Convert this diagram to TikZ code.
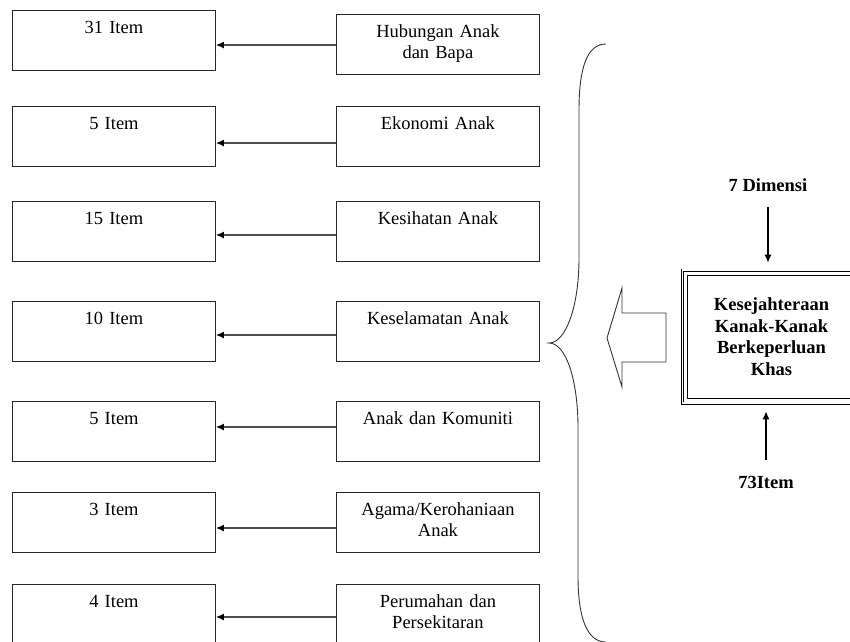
\documentclass[tikz,border=0pt]{standalone}
\usepackage{fontspec}
\setmainfont{Liberation Serif}
\usetikzlibrary{arrows.meta}
\tikzset{
	itembox/.style={draw=black!85, line width=0.9pt, anchor=north west, minimum width=203pt, inner xsep=4pt, inner ysep=0pt, text width=195pt, align=center, text height=23pt, text depth=37pt, font=\fontsize{18.5}{21.5}\selectfont},
	conn/.style={draw=black!70, line width=1.3pt, -{Latex[length=8pt,width=7pt,black]}},
	vconn/.style={line width=1.1pt, -{Latex[length=8pt,width=7pt]}},
	boldtext/.style={align=center, font=\fontsize{18.5}{21.5}\selectfont\bfseries},
}

\begin{document}
\begin{tikzpicture}[x=1pt,y=-1pt]
		%%%%% START %%%%%
		\useasboundingbox (0,0) rectangle (850,641);
		\clip (0,0) rectangle (850,641);
		
		% item boxes, dimension boxes and the arrows between them
		\foreach \i/\lt/\mt/\ay/\cnt/\txt in {
			1/10/14/45/31/{Hubungan Anak\\dan Bapa},
			2/106/106/143/5/{Ekonomi Anak},
			3/201/201/235/15/{Kesihatan Anak},
			4/301/301/335/10/{Keselamatan Anak},
			5/401/401/427/5/{Anak dan Komuniti},
			6/492/492/528/3/{Agama/Kerohaniaan\\Anak},
			7/584/584/617/4/{Perumahan dan\\Persekitaran}}
		{
			\node[itembox] (l\i) at (12,\lt) {\cnt\ Item};
			\node[itembox] (m\i) at (336,\mt) {\txt};
			\coordinate (a\i) at (m\i.west |- 0,\ay);
			\draw[conn] (a\i) -- (l\i.east |- a\i);
		}
		
		% brace
		\draw[black!80, line width=0.9pt] (606,44) .. controls (587,44) and (579,68) .. (579,110)
			-- (579,258) .. controls (579,306) and (566,343) .. (549,343)
			.. controls (566,343) and (578,380) .. (578,428)
			-- (578,576) .. controls (578,618) and (587,642) .. (606,642);
		
		% big arrow
		\draw[black!80, line width=0.9pt] (607,338) -- (622,288) -- (622,313) -- (666,313)
			-- (666,362) -- (622,362) -- (622,387) -- cycle;
		
		% main box
		\node[draw, line width=0.8pt, double, double distance=1.4pt, minimum width=178pt, minimum height=133pt, boldtext] (main) at (771.5,336.5)
			{Kesejahteraan\\Kanak-Kanak\\Berkeperluan\\Khas};
		\draw[line width=0.8pt] ([shift={(5.5,5.5)}]main.north west) rectangle ([shift={(-5.5,-5.5)}]main.south east);
		
		\node[boldtext] (dim) at (768,185) {7 Dimensi};
		\node[boldtext] (items) at (766,482) {73Item};
		\draw[vconn, shorten <=12pt, shorten >=7pt] (dim.south) -- (dim.south |- main.north);
		\draw[vconn, shorten <=12pt, shorten >=8pt] (items.north) -- (items.north |- main.south);
		%%%%% END %%%%%
	\end{tikzpicture}
\end{document}
